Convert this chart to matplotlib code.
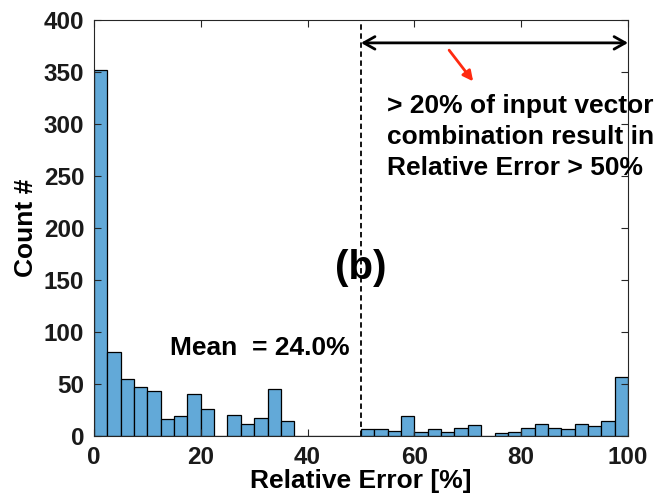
import matplotlib
matplotlib.use("Agg")
import matplotlib.pyplot as plt
import numpy as np

# histogram: 40 bins of 2.5 % relative error
bin_edges = np.linspace(0, 100, 41)
counts = [352, 81, 55, 47, 43, 16, 19, 40, 26, 0,
          20, 12, 17, 45, 14, 0, 0, 0, 0, 0,
          7, 7, 5, 19, 4, 7, 4, 8, 11, 0,
          3, 4, 8, 12, 8, 7, 12, 10, 14, 57]
mean_label = "Mean  = 24.0%"
note_label = "> 20% of input vector\ncombination result in\nRelative Error > 50%"
threshold = 50

plt.rcParams["font.family"] = ["Liberation Sans", "DejaVu Sans"]
plt.rcParams["font.weight"] = "bold"

fig = plt.figure(figsize=(6.59, 5), dpi=100)
ax = fig.add_axes([0.1426, 0.128, 0.8104, 0.832])

ax.bar(bin_edges[:-1], counts, width=np.diff(bin_edges), align="edge",
       color="#62a9d8", edgecolor="black", linewidth=0.9)

ax.axvline(threshold, color="black", linestyle="--", linewidth=1.3, dashes=(3, 2))
ax.annotate("", xy=(100, 378), xytext=(threshold, 378),
            arrowprops=dict(arrowstyle="<->,head_length=0.8,head_width=0.45",
                            color="black", lw=2, shrinkA=0, shrinkB=0))
ax.annotate("", xy=(71, 341), xytext=(66.5, 371),
            arrowprops=dict(arrowstyle="-|>,head_length=0.6,head_width=0.3",
                            color="#ff2a10", lw=2, shrinkA=0, shrinkB=0))

ax.text(54.8, 329, note_label, fontsize=19, fontweight="bold", va="top",
        ha="left", linespacing=1.37)
ax.text(45.1, 162, "(b)", fontsize=29, fontweight="bold", va="center", ha="left")
ax.text(14.2, 85, mean_label, fontsize=19, fontweight="bold", va="center", ha="left")

ax.set_xlim(0, 100)
ax.set_ylim(0, 400)
ax.set_xticks([0, 20, 40, 60, 80, 100])
ax.set_yticks(range(0, 401, 50))
ax.tick_params(direction="in", top=True, right=True, labelsize=17.5,
               length=5, width=0.8, colors="#262626", pad=7)
for lab in ax.get_xticklabels() + ax.get_yticklabels():
    lab.set_fontweight("bold")
    lab.set_color("#1a1a1a")
for sp in ax.spines.values():
    sp.set_color("#262626")
    sp.set_linewidth(0.8)

ax.set_xlabel("Relative Error [%]", fontsize=19, fontweight="bold", labelpad=0)
ax.set_ylabel("Count #", fontsize=19, fontweight="bold", labelpad=4)

fig.savefig("out.png", dpi=100)
